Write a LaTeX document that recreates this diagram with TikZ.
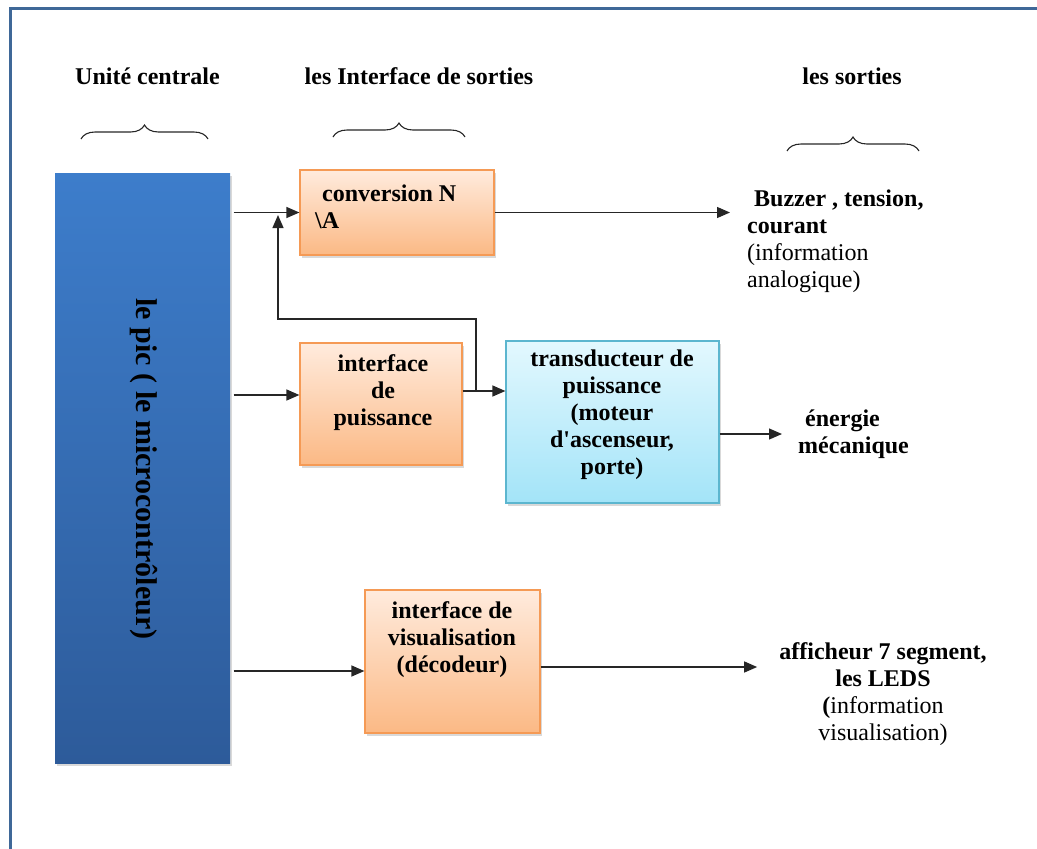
\documentclass[tikz,border=0pt]{standalone}
\usepackage{fontspec}
\setmainfont{Liberation Serif}
\usetikzlibrary{arrows.meta,shadows,decorations.pathreplacing,calc}

\definecolor{framec}{HTML}{3F6898}
\definecolor{pictop}{HTML}{3D7DCB}
\definecolor{picbot}{HTML}{2D5B9A}
\definecolor{orgtop}{HTML}{FFEBDD}
\definecolor{orgbot}{HTML}{FBB985}
\definecolor{orgline}{HTML}{F59A55}
\definecolor{cyntop}{HTML}{E3F8FE}
\definecolor{cynbot}{HTML}{A3E4F8}
\definecolor{cynline}{HTML}{5CB6CF}

\begin{document}
\begin{tikzpicture}[x=1pt,y=-1pt,
  box/.style={draw, line width=1.2pt, inner sep=0pt,
    drop shadow={shadow xshift=1.5pt, shadow yshift=-3pt, opacity=0.3}},
  picbox/.style={box, draw=none, top color=pictop, bottom color=picbot},
  obox/.style={box, draw=orgline, top color=orgtop, bottom color=orgbot},
  cbox/.style={box, draw=cynline, top color=cyntop, bottom color=cynbot},
  txt/.style={font=\fontsize{24}{27}\selectfont, inner sep=0pt},
  btxt/.style={font=\fontsize{24}{27}\selectfont\bfseries, inner sep=0pt},
  arr/.style={draw=black!85, line width=1.3pt, -{Triangle[length=13pt,width=11pt]}},
  bracestyle/.style={draw=black!85, line width=1.1pt, decorate,
    decoration={brace, amplitude=14pt}}]

\useasboundingbox (0,0) rectangle (1037,849);

% page frame
\draw[framec, line width=3pt] (10,849) -- (10,8) -- (1037,8);

% column headers and braces
\node[btxt] (h1) at (147.5,76) {Unité centrale};
\node[btxt] (h2) at (419,76) {les Interface de sorties};
\node[btxt] (h3) at (852,76) {les sorties};
\draw[bracestyle] (81,139) -- (208,139);
\draw[bracestyle] (333,137) -- (465,137);
\draw[bracestyle] (787,151) -- (919,151);

% blocks
\node[picbox, minimum width=175pt, minimum height=590pt] (pic) at (142.5,468) {};
\node[btxt, font=\fontsize{30}{32}\selectfont\bfseries, rotate=-90] (pict) at (144,469)
  {le pic ( le microcontrôleur)};

\node[obox, minimum width=194pt, minimum height=85pt] (conv) at (397,212.5) {};
\node[btxt, align=left, anchor=west] (convt) at (315,206.5)
  {\hspace{7pt}conversion N\\\textbackslash A};

\node[obox, minimum width=162pt, minimum height=122pt] (puis) at (381,404) {};
\node[btxt, align=center] (puist) at (383,393) {interface\\de\\puissance};

\node[cbox, minimum width=213pt, minimum height=162pt] (trans) at (612.5,422) {};
\node[btxt, align=center] (transt) at (612,415)
  {transducteur de\\puissance\\(moteur\\d\textquotesingle ascenseur,\\porte)};

\node[obox, minimum width=175pt, minimum height=143pt] (visu) at (452.5,661.5) {};
\node[btxt, align=center] (visut) at (452,640)
  {interface de\\visualisation\\(décodeur)};

% outputs
\node[txt, align=left, anchor=west, inner xsep=17pt] (buzz) at (730,241)
  {\hspace{7pt}\textbf{Buzzer , tension,}\\\textbf{courant}\\(information\\analogique)};
\node[btxt, align=left, anchor=west, inner xsep=16pt] (meca) at (782,434)
  {\hspace{7pt}énergie\\mécanique};
\node[txt, align=center, inner xsep=22pt] (aff) at (883,694)
  {\textbf{afficheur 7 segment,}\\\textbf{les LEDS}\\\textbf{(}information\\visualisation)};

% connectors
\coordinate (pe) at ([xshift=3pt]pic.east);
\coordinate (j1) at (278,213);
\coordinate (j2) at (476,391);
\coordinate (fb) at (278,319);
\coordinate (a2) at (0,395);
\coordinate (a3) at (0,391);
\coordinate (a5) at (0,671);
\coordinate (a6) at (0,667);

\draw[arr] (pe |- conv.west) -- (conv.west);
\draw[arr] (conv.east) -- (buzz.west |- conv.east);
\draw[arr] (pe |- a2) -- (puis.west |- a2);
\draw[arr] (puis.east |- a3) -- (trans.west |- a3);
\draw[arr, shorten >=2pt] (j2) |- (fb) -- (j1);
\draw[arr] (trans.east |- meca.west) -- (meca.west);
\draw[arr] (pe |- a5) -- (visu.west |- a5);
\draw[arr] (visu.east |- a6) -- (aff.west |- a6);

\end{tikzpicture}
\end{document}
